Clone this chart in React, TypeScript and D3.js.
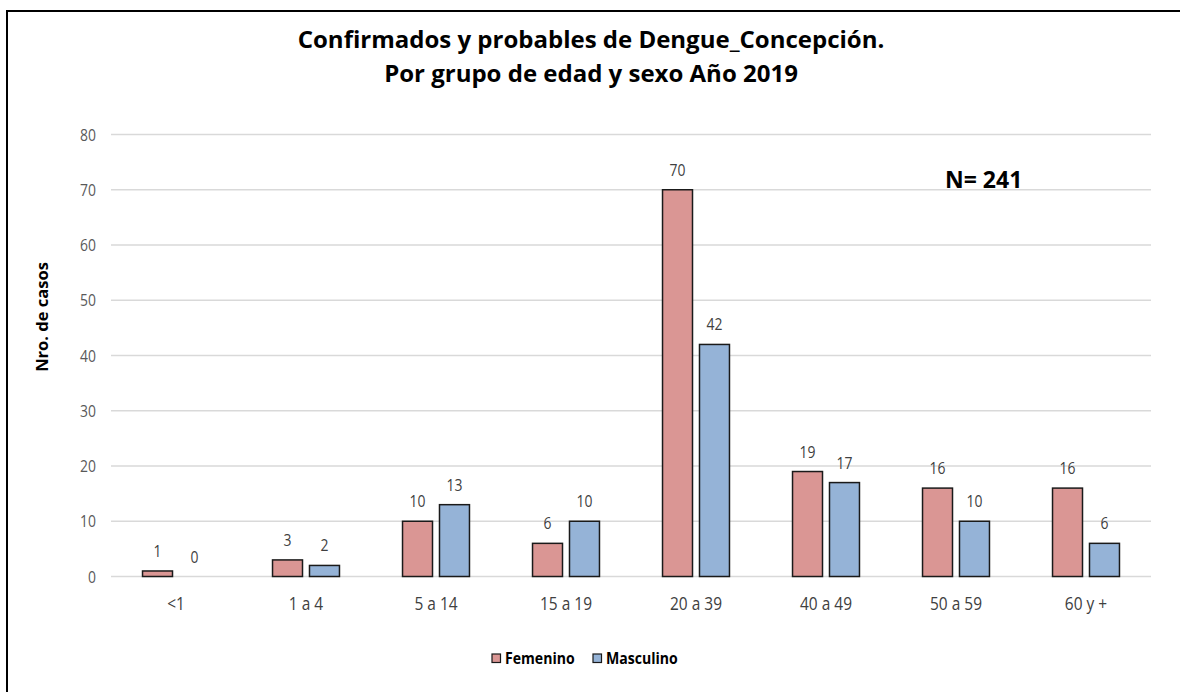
import React from "react";
import * as d3 from "d3";

const categories = ["<1", "1 a 4", "5 a 14", "15 a 19", "20 a 39", "40 a 49", "50 a 59", "60 y +"];
const femenino = [1, 3, 10, 6, 70, 19, 16, 16];
const masculino = [0, 2, 13, 10, 42, 17, 10, 6];
const seriesNames = ["Femenino", "Masculino"];
const yTicks = [0, 10, 20, 30, 40, 50, 60, 70, 80];
const titleLines = ["Confirmados y probables de Dengue_Concepción.", "Por grupo de edad y sexo Año 2019"];

const W = 1180, H = 692;
const colors = ["#DA9694", "#95B3D7"];
const FONT = "'Open Sans', sans-serif";

function CText(props: { x: number; y: number; size: number; sx: number; anchor: string; fill: string; weight?: string; children: React.ReactNode }) {
  return (
    <text
      transform={`translate(${props.x},${props.y}) scale(${props.sx},1)`}
      textAnchor={props.anchor}
      fontFamily={FONT}
      fontSize={props.size}
      fontWeight={props.weight || "normal"}
      fill={props.fill}
    >
      {props.children}
    </text>
  );
}

export default function App() {
  const left = 111, right = 1151, top = 134.5, bottom = 576.5;
  const x0 = d3.scaleBand<string>().domain(categories).range([left, right]).paddingInner(0.485).paddingOuter(0.2425);
  const x1 = d3.scaleBand<string>().domain(seriesNames).range([0, x0.bandwidth()]).paddingInner(0.189).paddingOuter(0);
  const y = d3.scaleLinear().domain([0, 80]).range([bottom, top]);
  const series = [femenino, masculino];

  return (
    <svg width={W} height={H} style={{ position: "absolute", left: 0, top: 0, background: "#fff" }}>
      <rect x={7} y={11} width={1200} height={720} fill="#fff" stroke="#000" strokeWidth={2} />
      {titleLines.map((t, i) => (
        <text key={i} x={591} y={48 + i * 34} textAnchor="middle" fontFamily={FONT} fontWeight="bold" fontSize={24} fill="#000">{t}</text>
      ))}
      {yTicks.map((t) => (
        <g key={t}>
          <line x1={left} x2={right} y1={y(t)} y2={y(t)} stroke="#d9d9d9" strokeWidth={1.3} />
          <CText x={96} y={y(t) + 6} size={17} sx={0.82} anchor="end" fill="#595959">{t}</CText>
        </g>
      ))}
      <text transform={`translate(48,317) rotate(-90)`} textAnchor="middle" fontFamily={FONT} fontWeight="bold" fontSize={16.5} fill="#000">Nro. de casos</text>
      {categories.map((c, ci) => (
        <g key={c}>
          {series.map((s, si) => {
            const v = s[ci];
            const bx = (x0(c) as number) + (x1(seriesNames[si]) as number);
            const bw = x1.bandwidth();
            return (
              <g key={si}>
                {v > 0 && (
                  <rect x={bx} y={y(v)} width={bw} height={y(0) - y(v)} fill={colors[si]} stroke="#1a1a1a" strokeWidth={1.5} />
                )}
                <CText x={bx + bw / 2} y={y(v) - 14} size={17} sx={0.82} anchor="middle" fill="#404040">{v}</CText>
              </g>
            );
          })}
          <CText x={(x0(c) as number) + x0.bandwidth() / 2} y={610} size={18} sx={0.86} anchor="middle" fill="#404040">{c}</CText>
        </g>
      ))}
      <text x={945} y={188} fontFamily={FONT} fontWeight="bold" fontSize={23} fill="#000">N= 241</text>
      {seriesNames.map((n, i) => {
        const lx = i === 0 ? 492 : 593;
        return (
          <g key={n}>
            <rect x={lx} y={654} width={8.5} height={8.5} fill={colors[i]} stroke="#1a1a1a" strokeWidth={1.2} />
            <CText x={lx + 13} y={664} size={16} sx={0.88} anchor="start" weight="bold" fill="#000">{n}</CText>
          </g>
        );
      })}
    </svg>
  );
}
